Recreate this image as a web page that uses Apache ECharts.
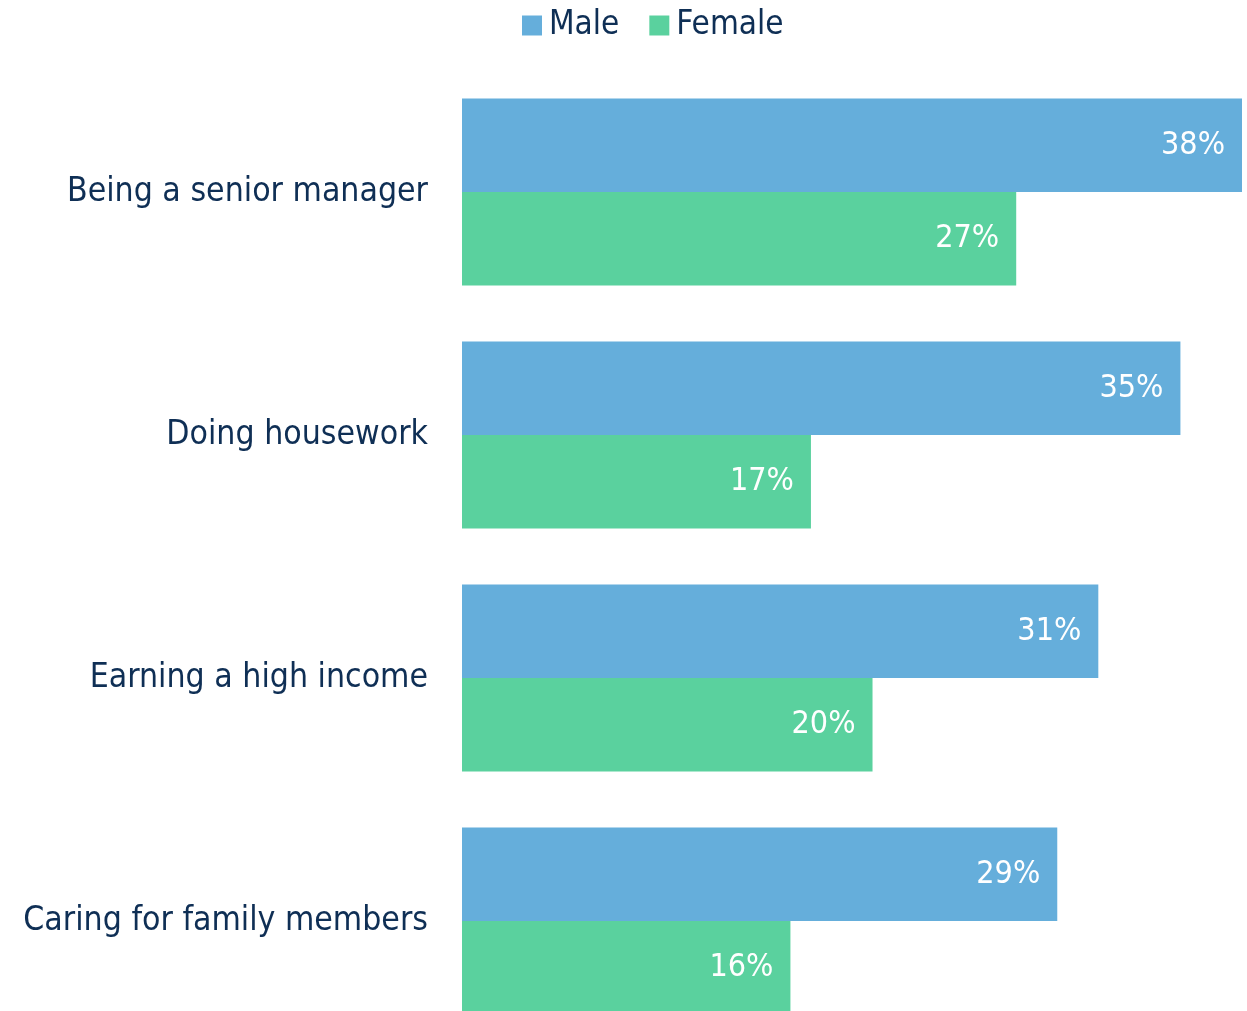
<!DOCTYPE html>
<html><head><meta charset="utf-8">
<script src="https://cdn.jsdelivr.net/npm/echarts@6/dist/echarts.min.js"></script>
<style>html,body{margin:0;padding:0;background:#fff}#c{width:1247px;height:1011px}</style>
</head><body><div id="c"></div>
<script>
const categories = ["Being a senior manager", "Doing housework", "Earning a high income", "Caring for family members"];
const maleValues = [38, 35, 31, 29];
const femaleValues = [27, 17, 20, 16];
const seriesNames = ["Male", "Female"];

const FONT = "'Liberation Sans Narrow', 'DejaVu Sans Condensed', sans-serif";
const NAVY = "#0f2f55";
const chart = echarts.init(document.getElementById('c'));
chart.setOption({
  animation: false,
  textStyle: { fontFamily: FONT },
  legend: {
    left: 522, top: 9, padding: 0, itemWidth: 20, itemHeight: 20, itemGap: 30, icon: 'rect',
    textStyle: { fontFamily: FONT, fontSize: 33, color: NAVY, padding: [0,0,0,2] },
    data: seriesNames
  },
  grid: { left: 462, top: 70.5, width: 780, height: 972, containLabel: false, outerBoundsMode: 'none' },
  xAxis: { type: 'value', min: 0, max: 38, show: false },
  yAxis: {
    type: 'category', data: categories, inverse: true,
    axisLine: { show: false }, axisTick: { show: false },
    axisLabel: { fontFamily: FONT, fontSize: 33.5, color: NAVY, margin: 34 }
  },
  series: [
    { name: seriesNames[0], type: 'bar', data: maleValues, barGap: '0%', barCategoryGap: '23%',
      itemStyle: { color: '#65aedb' },
      label: { show: true, position: 'insideRight', distance: 17, formatter: '{c}%', color: '#fff', fontFamily: FONT, fontSize: 32 } },
    { name: seriesNames[1], type: 'bar', data: femaleValues, barGap: '0%', barCategoryGap: '23%',
      itemStyle: { color: '#5ad19e' },
      label: { show: true, position: 'insideRight', distance: 17, formatter: '{c}%', color: '#fff', fontFamily: FONT, fontSize: 32 } }
  ]
});
</script></body></html>
